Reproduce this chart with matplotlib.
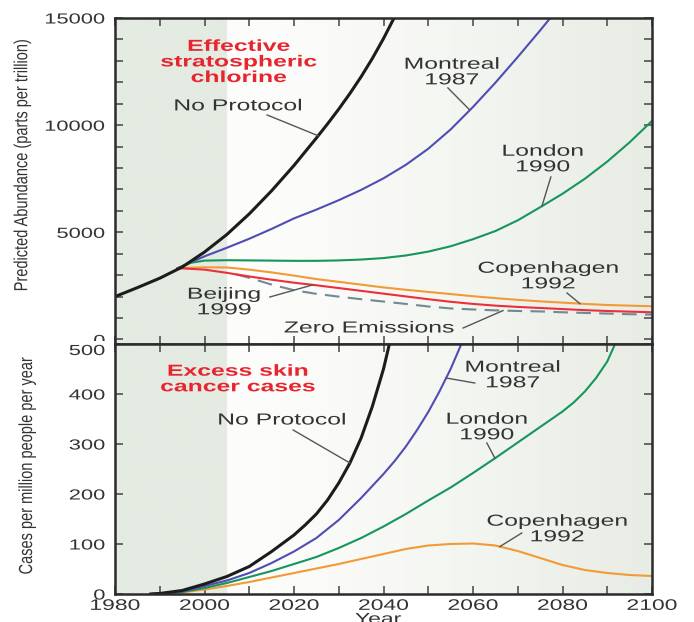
import numpy as np
import matplotlib
matplotlib.use("Agg")
import matplotlib.pyplot as plt
from matplotlib.patheffects import AbstractPathEffect
from matplotlib.transforms import Affine2D, Bbox, TransformedBbox

# ---------------- data: effective stratospheric chlorine (ppt) ----------------
noprot_years = [1980, 1985, 1990, 1995, 2000, 2005, 2010, 2015, 2020, 2025, 2027.5, 2030,
                2032.5, 2035, 2037.5, 2040, 2042.5]
noprot_cl = [2000, 2420, 2860, 3380, 4080, 4900, 5860, 6940, 8120, 9400, 10060, 10750,
             11480, 12260, 13110, 14040, 15060]

montreal_years = [1994, 2000, 2005, 2010, 2015, 2020, 2025, 2030, 2035, 2040, 2045, 2050, 2055,
                  2060, 2065, 2070, 2075, 2080]
montreal_cl = [3330, 3880, 4280, 4700, 5160, 5650, 6060, 6500, 6980, 7520, 8150, 8900, 9800,
               10850, 11980, 13180, 14420, 15700]

london_years = [1994, 1997, 2000, 2005, 2010, 2015, 2020, 2025, 2030, 2035, 2040, 2045, 2050,
                2055, 2060, 2065, 2070, 2075, 2080, 2085, 2090, 2095, 2100]
london_cl = [3330, 3580, 3680, 3700, 3690, 3680, 3670, 3670, 3690, 3730, 3800, 3920, 4100,
             4350, 4680, 5060, 5560, 6170, 6800, 7500, 8300, 9200, 10200]

copen_years = [1994, 2000, 2005, 2010, 2015, 2020, 2025, 2030, 2035, 2040, 2045, 2050, 2055,
               2060, 2065, 2070, 2075, 2080, 2085, 2090, 2095, 2100]
copen_cl = [3330, 3370, 3360, 3260, 3130, 2980, 2820, 2690, 2560, 2430, 2320, 2220, 2120,
            2020, 1930, 1850, 1780, 1720, 1660, 1610, 1580, 1550]

beijing_years = copen_years
beijing_cl = [3330, 3260, 3110, 2940, 2790, 2650, 2530, 2400, 2270, 2140, 2010, 1880, 1760,
              1660, 1580, 1520, 1470, 1420, 1370, 1330, 1300, 1270]

zero_years = [2007, 2010, 2015, 2020, 2025, 2030, 2035, 2040, 2045, 2050, 2055, 2060, 2065,
              2070, 2075, 2080, 2085, 2090, 2095, 2100]
zero_cl = [3040, 2880, 2560, 2300, 2130, 2000, 1880, 1770, 1660, 1540, 1450, 1400, 1360,
           1330, 1310, 1270, 1240, 1210, 1180, 1160]

# ---------------- data: excess skin cancer cases (per million per year) ----------------
noprot_b_years = [1988, 1990, 1995, 2000, 2005, 2010, 2015, 2020, 2022.5, 2025, 2027.5, 2030,
                  2032.5, 2035, 2037.5, 2040, 2042.5]
noprot_cases = [0, 1, 7, 20, 35, 55, 85, 118, 138, 160, 188, 222, 262, 312, 375, 450, 545]

montreal_b_years = [1988, 1995, 2000, 2005, 2010, 2015, 2020, 2025, 2030, 2035, 2040, 2042.5,
                    2045, 2047.5, 2050, 2052.5, 2055, 2057.5, 2060]
montreal_cases = [0, 5, 16, 27, 42, 62, 85, 112, 148, 192, 240, 266, 295, 328, 364, 405, 450,
                  502, 560]

london_b_years = [1988, 1995, 2000, 2005, 2010, 2015, 2020, 2025, 2030, 2035, 2040, 2045,
                  2050, 2055, 2060, 2065, 2070, 2075, 2080, 2082.5, 2085, 2087.5, 2090, 2092.5]
london_cases = [0, 4, 12, 22, 34, 46, 60, 74, 92, 112, 135, 160, 187, 213, 242, 272, 303,
                334, 365, 383, 405, 432, 465, 515]

copen_b_years = [1988, 1995, 2000, 2005, 2010, 2015, 2020, 2025, 2030, 2035, 2040, 2045,
                 2050, 2055, 2060, 2065, 2070, 2075, 2080, 2085, 2090, 2095, 2100]
copen_cases = [0, 3, 9, 16, 24, 33, 42, 51, 60, 70, 80, 90, 97, 100, 101, 97, 86, 72, 58,
               48, 42, 38, 36]

x_tick_labels = ["1980", "2000", "2020", "2040", "2060", "2080", "2100"]

# ---------------- styling ----------------
plt.rcParams['font.family'] = ['Liberation Sans', 'DejaVu Sans']

C_BLACK = '#1c1c1c'
C_BLUE = '#4e4db4'
C_GREEN = '#17955b'
C_ORANGE = '#f29a35'
C_RED = '#ec2f3b'
C_DASH = '#6f8a93'
C_TEXT = '#333333'
C_TITLE = '#e8252f'
C_LEADER = '#555555'


class Widen(AbstractPathEffect):
    """Draw text glyphs stretched horizontally about an anchor edge."""

    def __init__(self, sx=1.5, anchor='center'):
        super().__init__()
        self._sx = sx
        self._anchor = anchor

    def draw_path(self, renderer, gc, tpath, affine, rgbFace=None):
        bb = tpath.get_extents(affine)
        if self._anchor == 'left':
            x0 = bb.x0
        elif self._anchor == 'right':
            x0 = bb.x1
        else:
            x0 = 0.5 * (bb.x0 + bb.x1)
        stretch = Affine2D().translate(-x0, 0).scale(self._sx, 1.0).translate(x0, 0)
        renderer.draw_path(gc, tpath, affine + stretch, rgbFace)


W = 694.0
H = 622.0
fig = plt.figure(figsize=(W / 100, H / 100), dpi=100)
fig.patch.set_facecolor('white')
left, right = 115 / W, 652 / W
ax_t = fig.add_axes([left, 1 - 344 / H, right - left, (344 - 18) / H])
ax_b = fig.add_axes([left, 1 - 594 / H, right - left, (594 - 344) / H])


def paint_background(ax, ylo, yhi):
    xs = np.linspace(1980, 2100, 800)
    sage = np.array([228, 235, 226]) / 255.0
    white = np.array([253, 253, 251]) / 255.0
    tint = np.array([231, 236, 228]) / 255.0
    t = np.clip((xs - 2005) / 95.0, 0, 1) ** 1.4
    col = white[None, :] * (1 - t[:, None]) + tint[None, :] * t[:, None]
    col[xs < 2005] = sage
    ax.imshow(col[None, :, :], extent=[1980, 2100, ylo, yhi], aspect='auto',
              zorder=0, interpolation='bilinear')


T_LO, T_HI = -210, 15000
B_LO, B_HI = 0, 500
paint_background(ax_t, T_LO, T_HI)
paint_background(ax_b, B_LO, B_HI)

# ---- top panel lines ----
ax_t.plot(montreal_years, montreal_cl, color=C_BLUE, lw=1.5, zorder=3)
ax_t.plot(london_years, london_cl, color=C_GREEN, lw=1.5, zorder=3)
ax_t.plot(copen_years, copen_cl, color=C_ORANGE, lw=1.5, zorder=3)
ax_t.plot(zero_years, zero_cl, color=C_DASH, lw=1.5, ls=(0, (7, 4)), zorder=3)
ax_t.plot(beijing_years, beijing_cl, color=C_RED, lw=1.5, zorder=3)
ax_t.plot(noprot_years, noprot_cl, color=C_BLACK, lw=2.2, zorder=4)

# ---- bottom panel lines ----
ax_b.plot(copen_b_years, copen_cases, color=C_ORANGE, lw=1.5, zorder=3)
ax_b.plot(london_b_years, london_cases, color=C_GREEN, lw=1.5, zorder=3)
ax_b.plot(montreal_b_years, montreal_cases, color=C_BLUE, lw=1.5, zorder=3)
ax_b.plot(noprot_b_years, noprot_cases, color=C_BLACK, lw=2.2, zorder=4)

# ---- axes ----
for ax in (ax_t, ax_b):
    ax.set_xlim(1980, 2100)
    ax.set_xticks(np.arange(1980, 2101, 20))
    ax.set_xticks(np.arange(1990, 2100, 20), minor=True)
    ax.tick_params(which='both', direction='in', top=True, right=True,
                   length=6, width=1.1, color='#444444', labelcolor=C_TEXT)
    for sp in ax.spines.values():
        sp.set_linewidth(1.8)
        sp.set_color('#2b2b2b')
        sp.set_zorder(6)

ax_t.set_ylim(T_LO, T_HI)
ax_t.set_yticks([0, 5000, 10000, 15000])
ax_t.set_yticks(np.arange(1000, 15000, 1000), minor=True)
ax_t.tick_params(axis='x', labelbottom=False)
ax_t.tick_params(axis='y', labelsize=10.5, pad=7)

ax_b.set_ylim(B_LO, B_HI)
ax_b.set_yticks(np.arange(0, 501, 100))
ax_b.tick_params(axis='y', labelsize=10.5, pad=7)
ax_b.set_xticklabels(x_tick_labels)
ax_b.tick_params(axis='x', labelsize=11, pad=3.5)

for lbl in ax_t.get_yticklabels() + ax_b.get_yticklabels():
    lbl.set_path_effects([Widen(1.5, 'right')])
for lbl in ax_b.get_xticklabels():
    lbl.set_path_effects([Widen(1.5, 'center')])

# the top panel's "0" sits under the lower panel's "500"
zero_lbl = ax_t.get_yticklabels()[0]
zero_lbl.set_clip_box(TransformedBbox(Bbox([[0, 1 - 341 / H], [1, 1]]), fig.transFigure))
zero_lbl.set_clip_on(True)
ax_b.get_yticklabels()[-1].set_verticalalignment('top')

ax_t.set_ylabel('Predicted Abundance (parts per trillion)', fontsize=10.5, color=C_TEXT)
ax_t.yaxis.set_label_coords(-0.160, 0.552)
ax_t.yaxis.label.set_path_effects([Widen(1.3, 'center')])

ax_b.set_ylabel('Cases per million people per year', fontsize=10.5, color=C_TEXT)
ax_b.yaxis.set_label_coords(-0.151, 0.516)
ax_b.yaxis.label.set_path_effects([Widen(1.3, 'center')])

ax_b.set_xlabel('Year', fontsize=11, color=C_TEXT)
ax_b.xaxis.set_label_coords(0.49, -0.074)
ax_b.xaxis.label.set_path_effects([Widen(1.5, 'center')])


# ---- labels and leader lines ----
def title(ax, x, y, s):
    ax.text(x, y, s, ha='center', va='center', fontsize=11.5, fontweight='bold',
            color=C_TITLE, linespacing=1.05, zorder=7,
            path_effects=[Widen(1.55, 'center')])


def label(ax, x, y, s, lead_from, lead_yr, yrs, vals):
    ax.text(x, y, s, ha='center', va='center', fontsize=11.5, color=C_TEXT,
            linespacing=1.05, zorder=7, path_effects=[Widen(1.55, 'center')])
    if lead_from is not None:
        yv = float(np.interp(lead_yr, yrs, vals))
        ax.plot([lead_from[0], lead_yr], [lead_from[1], yv], color=C_LEADER,
                lw=1.0, zorder=6)


title(ax_t, 2007.7, 12950, 'Effective\nstratospheric\nchlorine')
label(ax_t, 2007.5, 10900, 'No Protocol', (2014.0, 10476), 2025.4, noprot_years, noprot_cl)
label(ax_t, 2055.3, 12480, 'Montreal\n1987', (2054.4, 11737), 2059.3, montreal_years, montreal_cl)
label(ax_t, 2075.6, 8420, 'London\n1990', (2077.4, 7584), 2075.4, london_years, london_cl)
label(ax_t, 2076.8, 2960, 'Copenhagen\n1992', (2081.0, 2170), 2083.9, copen_years, copen_cl)
label(ax_t, 2004.4, 1750, 'Beijing\n1999', (2014.6, 1983), 2024.2, beijing_years, beijing_cl)
label(ax_t, 2036.8, 537, 'Zero Emissions', (2057.8, 537), 2066.7, zero_years, zero_cl)

title(ax_b, 2007.5, 430, 'Excess skin\ncancer cases')
label(ax_b, 2017.3, 348, 'No Protocol', (2019.8, 328), 2032.5, noprot_b_years, noprot_cases)
label(ax_b, 2068.9, 438, 'Montreal\n1987', (2060.4, 422), 2054.0, montreal_b_years, montreal_cases)
label(ax_b, 2063.1, 334, 'London\n1990', (2063.1, 302), 2064.9, london_b_years, london_cases)
label(ax_b, 2078.8, 130, 'Copenhagen\n1992', (2070.9, 122), 2066.0, copen_b_years, copen_cases)

fig.savefig('out.png', dpi=100)
